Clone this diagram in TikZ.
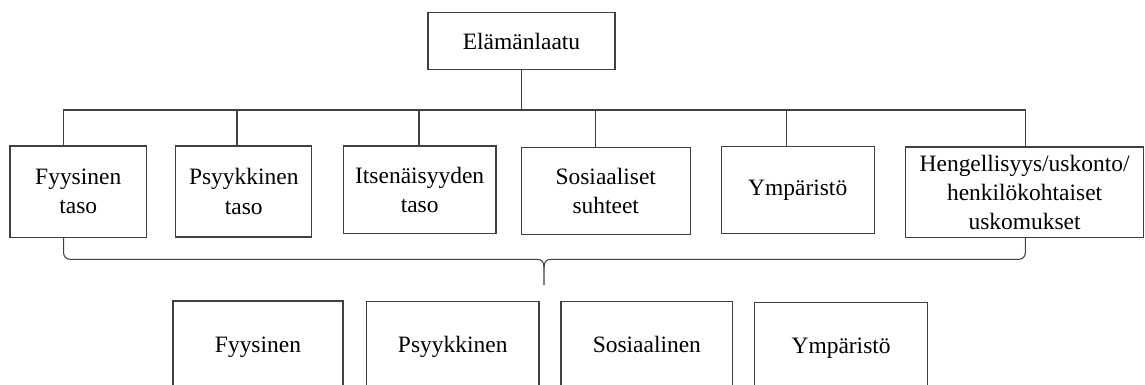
\documentclass[tikz,border=0pt]{standalone}
\usepackage{fontspec}
\setmainfont{Liberation Serif}
\newfontfamily\tnr{Liberation Serif}
\begin{document}
\begin{tikzpicture}[x=0.75pt,y=-0.75pt,
  box/.style={draw=black!75, line width=0.8pt, inner sep=0pt, align=center,
    font=\tnr\fontsize{17.6}{21.8}\selectfont},
  low/.style={text height=12pt, text depth=4pt},
  conn/.style={draw=black!75, line width=0.8pt}]
\clip (0,0) rectangle (1145,385);
\fill[white] (0,0) rectangle (1145,385);
% top
\node[box, minimum width=140.25pt, minimum height=42.45pt] (top) at (521.5,41) {Elämänlaatu};
% row 1
\node[box, minimum width=102.4pt, minimum height=68.5pt] (b1) at (78.25,191.65) {Fyysinen\\taso};
\node[box, minimum width=102.15pt, minimum height=68.25pt] (b2) at (243.8,191.5) {Psyykkinen\\taso};
\node[box, minimum width=114.5pt, minimum height=65.5pt] (b3) at (419.65,189.65) {Itsenäisyyden\\taso};
\node[box, minimum width=126.7pt, minimum height=64.95pt] (b4) at (605.75,191) {Sosiaaliset\\suhteet};
\node[box, minimum width=114.75pt, minimum height=64.95pt] (b5) at (797.7,190) {Ympäristö};
\node[box, minimum width=178.4pt, minimum height=67.7pt] (b6) at (1024.6,192.15) {Hengellisyys/uskonto/\\henkilökohtaiset\\uskomukset};
% bottom row
\node[box, low, minimum width=127.5pt, minimum height=69pt] (c1) at (258,347) {Fyysinen};
\node[box, low, minimum width=129.4pt, minimum height=69pt] (c2) at (452.75,347.5) {Psyykkinen};
\node[box, low, minimum width=128.8pt, minimum height=69pt] (c3) at (646.85,347.5) {Sosiaalinen};
\node[box, low, minimum width=129.9pt, minimum height=69pt] (c4) at (841.1,348.5) {Ympäristö};
% bus
\coordinate (busL) at (63.6,110);
\coordinate (busR) at (1025.3,110);
\coordinate (d2) at (237,110);
\coordinate (d3) at (419,110);
\coordinate (d4) at (595.4,110);
\coordinate (d5) at (786.5,110);
\draw[conn] (top.south) -- (top.south |- busL);
\draw[conn] (busL |- b1.north) -- (busL) -- (busR) -- (busR |- b6.north);
\draw[conn] (d2) -- (d2 |- b2.north);
\draw[conn] (d3) -- (d3 |- b3.north);
\draw[conn] (d4) -- (d4 |- b4.north);
\draw[conn] (d5) -- (d5 |- b5.north);
% brace
\coordinate (bl) at (63.6,237.3);
\coordinate (br) at (1025.3,237.3);
\coordinate (tip) at (544,285);
\draw[conn] (bl |- b1.south) -- (63.6,253) to[out=-90,in=180] (70,259.3) -- (537,259.3)
  .. controls (542,259.3) and (544,262) .. (544,268) -- (tip);
\draw[conn] (br |- b6.south) -- (1025.3,253) to[out=-90,in=0] (1019,259.3) -- (551,259.3)
  .. controls (546,259.3) and (544,262) .. (544,268);
\end{tikzpicture}
\end{document}
